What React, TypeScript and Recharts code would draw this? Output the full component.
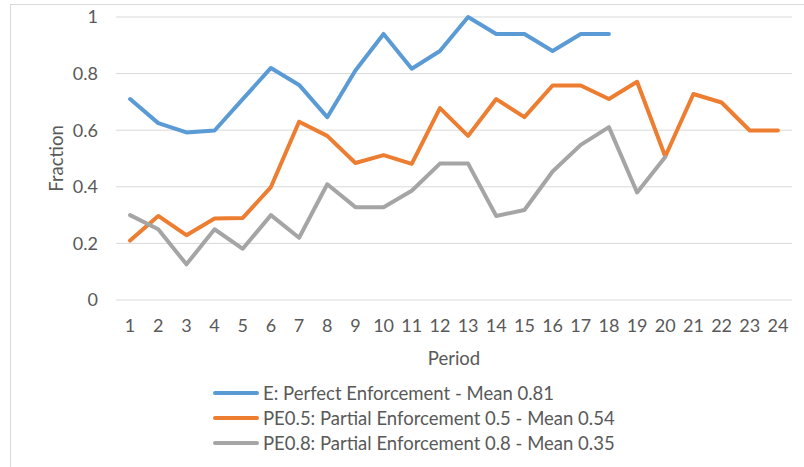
import React from 'react';
import { LineChart, Line, XAxis, YAxis, CartesianGrid, Legend } from 'recharts';

const periods = [1, 2, 3, 4, 5, 6, 7, 8, 9, 10, 11, 12, 13, 14, 15, 16, 17, 18, 19, 20, 21, 22, 23, 24];

const perfect = [0.71, 0.625, 0.592, 0.599, 0.71, 0.82, 0.76, 0.646, 0.811, 0.94, 0.817, 0.88, 1.0, 0.94, 0.94, 0.88, 0.94, 0.94];
const partial05 = [0.21, 0.297, 0.229, 0.288, 0.29, 0.399, 0.63, 0.58, 0.484, 0.512, 0.481, 0.678, 0.58, 0.71, 0.646, 0.758, 0.758, 0.71, 0.771, 0.507, 0.728, 0.698, 0.599, 0.599];
const partial08 = [0.3, 0.25, 0.126, 0.25, 0.181, 0.3, 0.22, 0.409, 0.328, 0.328, 0.386, 0.482, 0.482, 0.297, 0.318, 0.454, 0.548, 0.611, 0.38, 0.505];

const yTicks = [0, 0.2, 0.4, 0.6, 0.8, 1];

const seriesNames = [
  'E: Perfect Enforcement - Mean 0.81',
  'PE0.5: Partial Enforcement 0.5 - Mean 0.54',
  'PE0.8: Partial Enforcement 0.8 - Mean 0.35',
];

const COLORS = ['#5B9BD5', '#ED7D31', '#A5A5A5'];
const TEXT = '#595959';
const FONT = 'Lato, "Open Sans", sans-serif';

const data = periods.map((p, i) => ({
  period: p,
  perfect: perfect[i] ?? null,
  partial05: partial05[i] ?? null,
  partial08: partial08[i] ?? null,
}));

const FractionLabel = (props: any) => {
  const vb = props.viewBox || { x: 0, y: 17, width: 116, height: 283 };
  const cx = 63;
  const cy = vb.y + vb.height / 2;
  return (
    <text x={cx} y={cy} transform={`rotate(-90, ${cx}, ${cy})`} textAnchor="middle" fill={TEXT} fontSize={18.5} fontFamily={FONT}>
      Fraction
    </text>
  );
};

const LegendBox = (props: any) => {
  const items = props.payload || [];
  return (
    <div style={{ fontFamily: FONT, fontSize: 18.5, color: TEXT }}>
      {items.map((it: any, i: number) => (
        <div key={i} style={{ display: 'flex', alignItems: 'center', height: 25, whiteSpace: 'nowrap' }}>
          <span style={{ display: 'inline-block', width: 46, height: 4, borderRadius: 2, background: it.color, marginRight: 4 }} />
          <span>{it.value}</span>
        </div>
      ))}
    </div>
  );
};

const App: React.FC = () => {
  return (
    <div style={{ position: 'absolute', left: 0, top: 0, width: 804, height: 467, overflow: 'hidden', background: '#fff' }}>
      <div style={{ position: 'absolute', left: 10, top: 4, width: 900, height: 600, border: '1px solid #D9D9D9' }} />
      <div style={{ position: 'absolute', left: 0, top: 0 }}>
        <LineChart width={804} height={467} data={data} margin={{ top: 17, right: 12, bottom: 100, left: 0 }}>
          <CartesianGrid vertical={false} stroke="#D9D9D9" strokeWidth={1} />
          <XAxis
            dataKey="period"
            type="number"
            domain={[0.5, 24.5]}
            ticks={periods}
            interval={0}
            axisLine={false}
            tickLine={false}
            tickSize={0}
            tickMargin={19}
            height={67}
            tick={{ fill: TEXT, fontSize: 18, fontFamily: FONT }}
            label={{ value: 'Period', position: 'insideBottom', offset: 2, fill: TEXT, fontSize: 18.5, fontFamily: FONT }}
          />
          <YAxis
            domain={[0, 1]}
            ticks={yTicks}
            width={116}
            axisLine={false}
            tickLine={false}
            tickSize={0}
            tickMargin={18}
            tick={{ fill: TEXT, fontSize: 18, fontFamily: FONT }}
            label={<FractionLabel />}
          />
          <Legend
            layout="horizontal"
            verticalAlign="middle"
            align="center"
            content={<LegendBox />}
            wrapperStyle={{ left: 213, top: 380, width: 'auto' }}
          />
          <Line dataKey="perfect" name={seriesNames[0]} stroke={COLORS[0]} strokeWidth={4} dot={false} strokeLinejoin="round" strokeLinecap="round" isAnimationActive={false} />
          <Line dataKey="partial05" name={seriesNames[1]} stroke={COLORS[1]} strokeWidth={4} dot={false} strokeLinejoin="round" strokeLinecap="round" isAnimationActive={false} />
          <Line dataKey="partial08" name={seriesNames[2]} stroke={COLORS[2]} strokeWidth={4} dot={false} strokeLinejoin="round" strokeLinecap="round" isAnimationActive={false} />
        </LineChart>
      </div>
    </div>
  );
};

export default App;
